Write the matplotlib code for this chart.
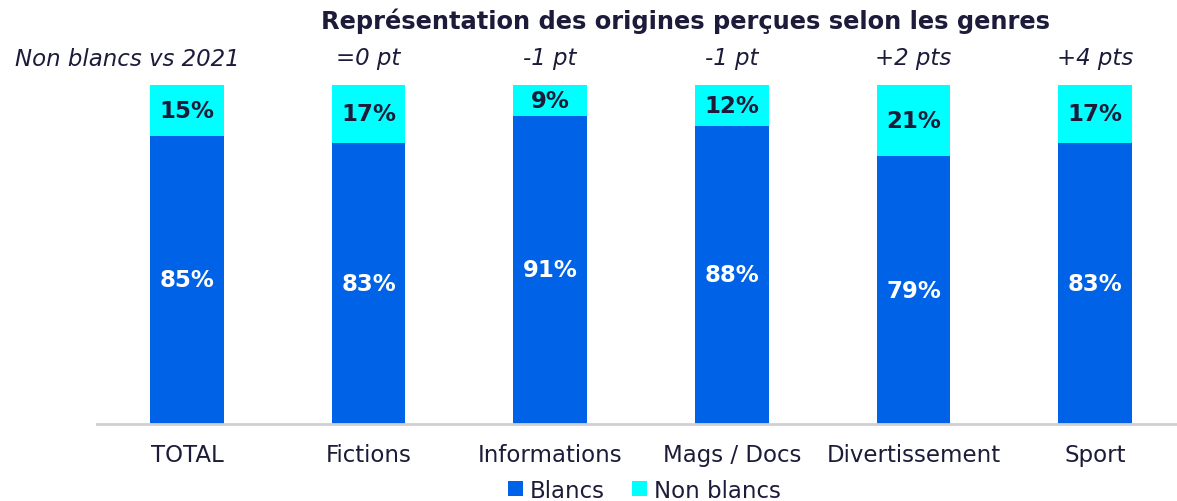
import matplotlib
matplotlib.use("Agg")
import matplotlib.pyplot as plt
import numpy as np

categories = ["TOTAL", "Fictions", "Informations", "Mags / Docs", "Divertissement", "Sport"]
blancs = [85, 83, 91, 88, 79, 83]
non_blancs = [15, 17, 9, 12, 21, 17]
evolution = ["=0 pt", "-1 pt", "-1 pt", "+2 pts", "+4 pts"]

blue = "#0062E6"
cyan = "#00FFFF"
dark = "#1C1C3A"

plt.rcParams["font.family"] = ["DejaVu Sans"]

fig = plt.figure(figsize=(11.77, 5.02), dpi=100)
ax = fig.add_axes([0.0824, 0.1534, 0.9176, 0.6753])

x = np.arange(len(categories))
width = 0.405
ax.bar(x, blancs, width, color=blue, label="Blancs")
ax.bar(x, non_blancs, width, bottom=blancs, color=cyan, label="Non blancs")

for i in range(len(categories)):
    ax.text(x[i], blancs[i] / 2, f"{blancs[i]}%", ha="center", va="center",
            color="white", fontsize=16.5, fontweight="bold")
    ax.text(x[i], blancs[i] + non_blancs[i] / 2, f"{non_blancs[i]}%", ha="center", va="center",
            color=dark, fontsize=16.5, fontweight="bold")

ax.set_xlim(-0.495, 5.45)
ax.set_ylim(0, 100)
ax.set_yticks([])
ax.set_xticks(x)
ax.set_xticklabels(categories, fontsize=16.5, color=dark)
ax.tick_params(axis="x", length=0, pad=14)
for s in ["top", "right", "left"]:
    ax.spines[s].set_visible(False)
ax.spines["bottom"].set_color("#d0d0d0")
ax.spines["bottom"].set_linewidth(2)

fig.text(0.582, 0.958, "Représentation des origines perçues selon les genres", ha="center",
         va="center", fontsize=17.4, fontweight="bold", color=dark)
fig.text(0.108, 0.882, "Non blancs vs 2021", ha="center", va="center", fontsize=16.5,
         style="italic", color=dark)
for i, t in enumerate(evolution):
    ax.text(x[i + 1], 1.08, t, transform=ax.get_xaxis_transform(), ha="center", va="center",
            fontsize=16.5, style="italic", color=dark)

ax.legend(loc="center", bbox_to_anchor=(0.507, -0.195), ncol=2, frameon=False, fontsize=16.5,
          handlelength=0.65, handleheight=0.65, handletextpad=0.3, columnspacing=1.2,
          labelcolor=dark)

fig.savefig("out.png", dpi=100)
plt.close(fig)
